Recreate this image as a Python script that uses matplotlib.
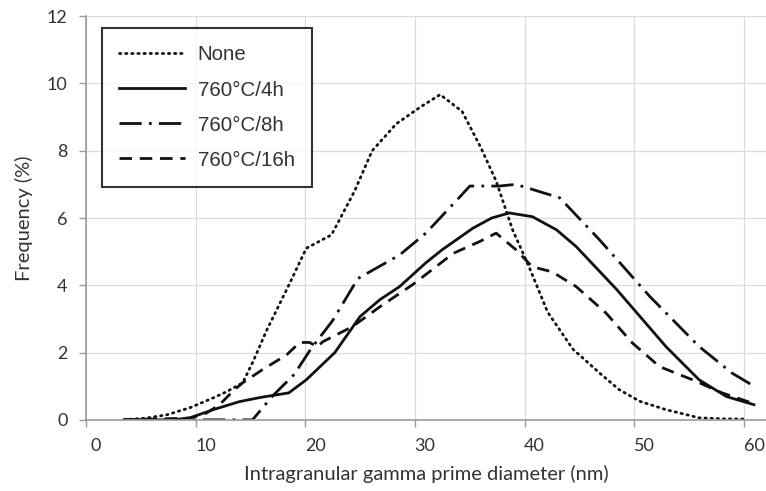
import matplotlib.pyplot as plt
import matplotlib.transforms as mtransforms

# size distributions (diameter in nm, frequency in %)
none_x = [3.5, 5.5, 7.4, 9.5, 11.6, 12.8, 14.3, 15.2, 16.5, 18.5, 20.1, 22.4, 24.5, 26.1,
          28.3, 30.5, 32.3, 34.3, 36.0, 37.4, 38.9, 40.4, 42.1, 44.4, 46.8, 48.6, 50.5,
          52.9, 55.9, 58.0, 60.2]
none_y = [0.0, 0.05, 0.15, 0.36, 0.65, 0.83, 1.1, 1.7, 2.67, 4.0, 5.1, 5.5, 6.8, 8.0,
          8.8, 9.3, 9.67, 9.17, 8.1, 7.1, 5.65, 4.55, 3.2, 2.1, 1.4, 0.9, 0.55,
          0.3, 0.06, 0.03, 0.02]

h4_x = [3.5, 8.0, 9.5, 11.6, 14.0, 16.0, 18.5, 20.1, 22.7, 25.0, 26.8, 28.6, 31.0, 32.5,
        35.3, 37.0, 38.6, 40.7, 42.9, 44.7, 48.4, 52.9, 55.9, 58.4, 60.9]
h4_y = [0.0, 0.0, 0.06, 0.3, 0.54, 0.67, 0.8, 1.19, 2.0, 3.07, 3.57, 3.96, 4.67, 5.06,
        5.7, 6.0, 6.15, 6.04, 5.65, 5.15, 3.87, 2.17, 1.19, 0.69, 0.45]

h8_x = [3.5, 15.2, 17.0, 19.0, 20.5, 22.5, 24.8, 28.6, 31.0, 34.3, 35.0, 37.7, 39.2,
        43.2, 46.8, 51.4, 55.9, 58.9, 61.0]
h8_y = [0.0, 0.0, 0.7, 1.35, 2.1, 2.95, 4.2, 4.9, 5.55, 6.7, 6.95, 6.95, 7.0,
        6.6, 5.36, 3.67, 2.18, 1.39, 0.98]

h16_x = [3.5, 9.5, 11.0, 12.2, 13.4, 14.3, 16.1, 18.3, 19.5, 20.4, 21.1, 21.6, 24.3,
         26.8, 29.8, 33.5, 35.9, 37.4, 39.2, 40.7, 42.5, 44.7, 47.4, 49.8, 52.3, 55.3,
         58.0, 60.9]
h16_y = [0.0, 0.05, 0.2, 0.45, 0.85, 1.1, 1.49, 1.93, 2.3, 2.3, 2.17, 2.32, 2.77,
         3.36, 4.02, 4.95, 5.3, 5.55, 5.06, 4.55, 4.4, 3.96, 3.18, 2.29, 1.58, 1.19,
         0.8, 0.48]

labels = ['None', '760°C/4h', '760°C/8h', '760°C/16h']

plt.rcParams['font.family'] = ['Lato', 'DejaVu Sans']

fig = plt.figure(figsize=(7.66, 4.91), dpi=100)
ax = fig.add_axes([0.112, 0.145, 0.888, 0.822])

c = '#111111'
ax.plot(none_x, none_y, color=c, lw=2.0, linestyle=(0, (0.5, 1.7)),
        dash_capstyle='round', label=labels[0])
ax.plot(h4_x, h4_y, color=c, lw=2.0, label=labels[1])
ax.plot(h8_x, h8_y, color=c, lw=2.0, linestyle=(0, (8, 2.6, 1, 2.6)), label=labels[2])
ax.plot(h16_x, h16_y, color=c, lw=2.0, linestyle=(0, (4.5, 2.8)), label=labels[3])

ax.set_xlim(0, 62)
ax.set_ylim(0, 12)
ax.set_xticks(range(0, 61, 10))
ax.set_yticks(range(0, 13, 2))
ax.grid(True, color='#dcdcdc', lw=0.9)
ax.set_axisbelow(True)
for s in ['top', 'right']:
    ax.spines[s].set_visible(False)
for s in ['left', 'bottom']:
    ax.spines[s].set_color('#9a9a9a')
    ax.spines[s].set_linewidth(1.2)
ax.tick_params(colors='#9a9a9a', length=5, width=1, labelcolor='#333333',
               labelsize=13, pad=8)

# x labels sit a little to the right of their ticks in the original
shift = mtransforms.ScaledTranslation(0.10, 0, fig.dpi_scale_trans)
for lab in ax.get_xticklabels():
    lab.set_transform(lab.get_transform() + shift)

ax.set_xlabel('Intragranular gamma prime diameter (nm)', fontsize=14.5, color='#333333',
              labelpad=8)
ax.set_ylabel('Frequency (%)', fontsize=14.5, color='#333333', labelpad=10)

leg = ax.legend(loc='upper left', bbox_to_anchor=(102 / 766, 1 - 28 / 491),
                bbox_transform=fig.transFigure, borderaxespad=0, fancybox=False,
                edgecolor='black', handlelength=3.2, handletextpad=0.6,
                labelspacing=0.78, borderpad=0.85,
                prop={'family': ['Liberation Sans', 'DejaVu Sans'], 'size': 14.8})
leg.get_frame().set_linewidth(1.5)
for t in leg.get_texts():
    t.set_color('#333333')
    t.set_fontfamily(['Liberation Sans', 'DejaVu Sans'])

fig.savefig('out.png', dpi=100)
